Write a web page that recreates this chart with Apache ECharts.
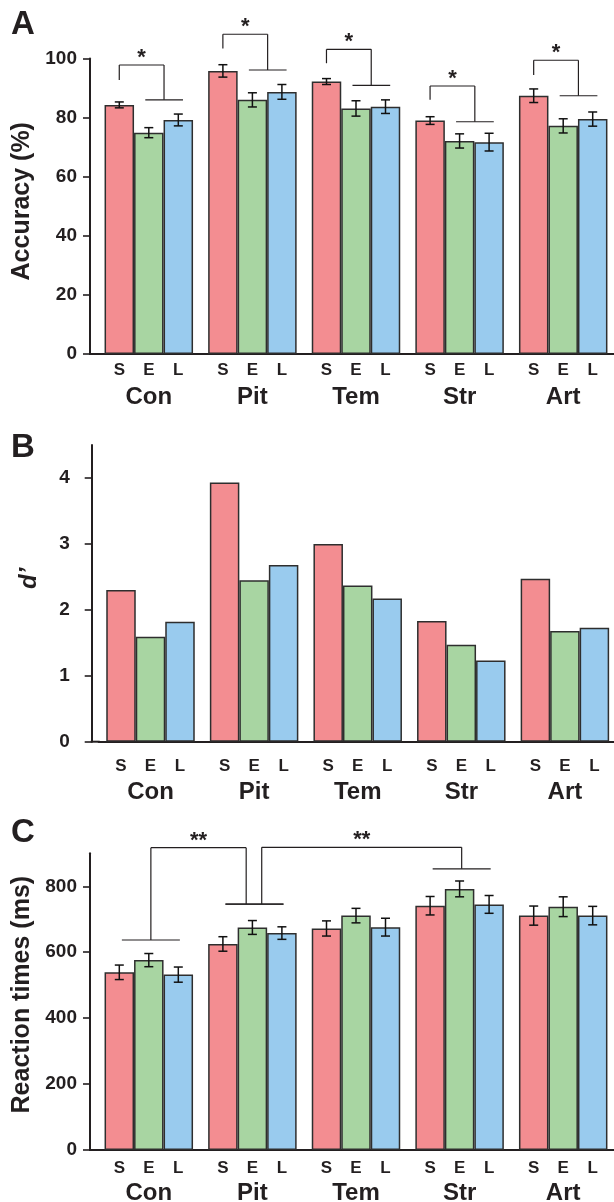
<!DOCTYPE html>
<html><head><meta charset="utf-8">
<script src="https://cdn.jsdelivr.net/npm/echarts@6/dist/echarts.min.js"></script>
<style>html,body{margin:0;padding:0;background:#fff}#c{width:614px;height:1202px}</style>
</head><body><div id="c"></div>
<script>
// ---------- data ----------
const categories = ['Con', 'Pit', 'Tem', 'Str', 'Art'];
const conditions = ['S', 'E', 'L'];

// Panel A: accuracy (%)
const accS = [84.3, 95.8, 92.2, 79.0, 87.4];
const accE = [74.9, 86.0, 83.1, 72.1, 77.2];
const accL = [79.2, 88.7, 83.7, 71.7, 79.5];
const accErrS = [1.0, 2.1, 1.0, 1.3, 2.3];
const accErrE = [1.7, 2.4, 2.6, 2.4, 2.4];
const accErrL = [2.0, 2.5, 2.3, 3.0, 2.4];
// significance brackets: [category, left leg start, top, right leg end]
const accBrackets = [
  [0, 92.7, 97.8, 86.0],
  [1, 103.4, 108.2, 96.1],
  [2, 98.4, 103.1, 90.9],
  [3, 86.0, 90.7, 78.6],
  [4, 94.4, 99.4, 87.4]
];

// Panel B: d'
const dS = [2.30, 3.93, 3.00, 1.83, 2.47];
const dE = [1.59, 2.45, 2.37, 1.47, 1.68];
const dL = [1.82, 2.68, 2.17, 1.23, 1.73];

// Panel C: reaction times (ms)
const rtS = [539, 625, 672, 741, 711];
const rtE = [576, 675, 711, 792, 738];
const rtL = [532, 658, 676, 745, 711];
const rtErrS = [22, 22, 23, 28, 29];
const rtErrE = [20, 21, 22, 24, 30];
const rtErrL = [23, 19, 27, 27, 28];
// brackets: [from category, from level, to category, to level, top level, from leg offset, to leg offset]
const rtBrackets = [
  [0, 637, 1, 746, 917, 0.02, -0.06],
  [1, 746, 3, 853, 918, 0.09, 0.02]
];

const accTicks = [0, 20, 40, 60, 80, 100];
const dTicks = [0, 1, 2, 3, 4];
const rtTicks = [0, 200, 400, 600, 800];

// ---------- style ----------
const FONT = "'Liberation Sans', Arial, Helvetica, sans-serif";
const INK = '#231f20';
const COLORS = ['#f38d91', '#a8d5a2', '#99cbee'];
const BAR_W = 29.5;
const grids = [
  { left: 97, width: 518, top: 58.5, height: 295.5 },
  { left: 98.7, width: 518, top: 445, height: 296.7 },
  { left: 97, width: 518, top: 853.3, height: 296.7 }
];
grids.forEach(g => { g.containLabel = false; g.outerBoundsMode = 'none'; });

const chart = echarts.init(document.getElementById('c'), null, { renderer: 'canvas' });

function xAxis(i, margin) {
  return {
    gridIndex: i, type: 'category', data: categories,
    axisTick: { show: false },
    axisLine: { show: true, onZero: false, lineStyle: { color: INK, width: 2 } },
    axisLabel: { fontSize: 24, fontWeight: 'bold', color: INK, fontFamily: FONT, margin: margin },
    splitLine: { show: false }
  };
}
function yAxis(i, min, max, ticks, name, nameOpts, labelMargin) {
  return {
    gridIndex: i, type: 'value', min: min, max: max, offset: 7,
    axisLine: { show: true, lineStyle: { color: INK, width: 2 } },
    axisTick: { show: true, length: 7, customValues: ticks, lineStyle: { color: INK, width: 1.6 } },
    axisLabel: { customValues: ticks, fontSize: 19, fontWeight: 'bold', color: INK, fontFamily: FONT, margin: labelMargin },
    splitLine: { show: false },
    name: name, nameLocation: 'middle', nameGap: nameOpts.gap,
    nameTextStyle: Object.assign({ fontSize: 25, fontWeight: 'bold', color: INK, fontFamily: FONT }, nameOpts.style)
  };
}

function barSeries(panel, arrs, labelDist) {
  return arrs.map((arr, s) => ({
    type: 'bar', name: conditions[s], xAxisIndex: panel, yAxisIndex: panel,
    data: arr, barWidth: BAR_W, barGap: '0%',
    itemStyle: { color: COLORS[s], borderColor: '#2e2e2e', borderWidth: 1.5 },
    label: {
      show: true, position: 'bottom', distance: labelDist, formatter: conditions[s],
      fontSize: 17, fontWeight: 'bold', color: INK, fontFamily: FONT
    },
    emphasis: { disabled: true }, z: 2
  }));
}

function errorSeries(panel, vals, errs) {
  const data = [];
  vals.forEach((arr, s) => arr.forEach((v, c) => data.push([c, v, errs[s][c], s])));
  return {
    type: 'custom', xAxisIndex: panel, yAxisIndex: panel, data: data, z: 5,
    encode: { x: 0, y: 1 }, clip: false,
    renderItem: function (params, api) {
      const c = api.value(0), v = api.value(1), e = api.value(2), s = api.value(3);
      const x = api.coord([c, v])[0] + (s - 1) * BAR_W;
      const yT = api.coord([c, v + e])[1], yB = api.coord([c, v - e])[1];
      const h = 4.5, st = { stroke: '#111', lineWidth: 1.5 };
      return { type: 'group', children: [
        { type: 'line', shape: { x1: x, y1: yT, x2: x, y2: yB }, style: st },
        { type: 'line', shape: { x1: x - h, y1: yT, x2: x + h, y2: yT }, style: st },
        { type: 'line', shape: { x1: x - h, y1: yB, x2: x + h, y2: yB }, style: st }
      ] };
    }
  };
}

const BST = { stroke: INK, lineWidth: 1.2 };
function starText(x, y, txt) {
  return { type: 'text', style: { text: txt, x: x, y: y, font: 'bold 22px ' + FONT, fill: INK, align: 'center', verticalAlign: 'middle' } };
}

const accBracketSeries = {
  type: 'custom', xAxisIndex: 0, yAxisIndex: 0, data: accBrackets, z: 6, clip: false,
  encode: { x: 0, y: 2 },
  renderItem: function (params, api) {
    const c = api.value(0);
    const band = api.size([1, 0])[0];
    const cx = api.coord([c, 0])[0];
    const X = f => cx + f * band;
    const yL = api.coord([c, api.value(1)])[1];
    const yT = api.coord([c, api.value(2)])[1];
    const yR = api.coord([c, api.value(3)])[1];
    const xl = X(-0.285), xr = X(0.147);
    return { type: 'group', children: [
      { type: 'line', shape: { x1: xl, y1: yL, x2: xl, y2: yT }, style: BST },
      { type: 'line', shape: { x1: xl, y1: yT, x2: xr, y2: yT }, style: BST },
      { type: 'line', shape: { x1: xr, y1: yT, x2: xr, y2: yR }, style: BST },
      { type: 'line', shape: { x1: X(-0.034), y1: yR, x2: X(0.33), y2: yR }, style: BST },
      starText((xl + xr) / 2, yT - 7, '*')
    ] };
  }
};

const rtBracketSeries = {
  type: 'custom', xAxisIndex: 2, yAxisIndex: 2, data: rtBrackets, z: 6, clip: false,
  encode: { x: 0, y: 4 },
  renderItem: function (params, api) {
    const c1 = api.value(0), c2 = api.value(2);
    const band = api.size([1, 0])[0];
    const cx1 = api.coord([c1, 0])[0], cx2 = api.coord([c2, 0])[0];
    const y1 = api.coord([c1, api.value(1)])[1];
    const y2 = api.coord([c2, api.value(3)])[1];
    const yT = api.coord([c1, api.value(4)])[1];
    const xa = cx1 + api.value(5) * band, xb = cx2 + api.value(6) * band;
    return { type: 'group', children: [
      { type: 'line', shape: { x1: cx1 - 0.26 * band, y1: y1, x2: cx1 + 0.30 * band, y2: y1 }, style: BST },
      { type: 'line', shape: { x1: cx2 - 0.26 * band, y1: y2, x2: cx2 + 0.30 * band, y2: y2 }, style: BST },
      { type: 'line', shape: { x1: xa, y1: y1, x2: xa, y2: yT }, style: BST },
      { type: 'line', shape: { x1: xa, y1: yT, x2: xb, y2: yT }, style: BST },
      { type: 'line', shape: { x1: xb, y1: yT, x2: xb, y2: y2 }, style: BST },
      starText((xa + xb) / 2, yT - 7, '**')
    ] };
  }
};

const graphics = [];
['A', 'B', 'C'].forEach((t, i) => {
  const ys = [25, 448, 832.5];
  graphics.push({ type: 'text', x: 11, y: ys[i], style: { text: t, font: 'bold 33px ' + FONT, fill: INK, verticalAlign: 'middle' } });
});
grids.forEach(g => {
  const yb = g.top + g.height;
  graphics.push({ type: 'line', shape: { x1: g.left - 8, y1: yb, x2: g.left + 1, y2: yb }, style: { stroke: INK, lineWidth: 2 } });
});

chart.setOption({
  animation: false,
  backgroundColor: '#fff',
  textStyle: { fontFamily: FONT },
  grid: grids,
  xAxis: [xAxis(0, 31), xAxis(1, 39), xAxis(2, 31)],
  yAxis: [
    yAxis(0, 0, 100, accTicks, 'Accuracy (%)', { gap: 51, style: { padding: [0, 0, 0, 10] } }, 13),
    yAxis(1, 0, 4.5, dTicks, 'd\u2019', { gap: 50, style: { fontStyle: 'italic', fontSize: 24, padding: [0, 0, 0, 30] } }, 22),
    yAxis(2, 0, 900, rtTicks, 'Reaction times (ms)', { gap: 51, style: { padding: [0, 0, 0, 14] } }, 13)
  ],
  series: [].concat(
    barSeries(0, [accS, accE, accL], 8),
    [errorSeries(0, [accS, accE, accL], [accErrS, accErrE, accErrL]), accBracketSeries],
    barSeries(1, [dS, dE, dL], 16),
    barSeries(2, [rtS, rtE, rtL], 10),
    [errorSeries(2, [rtS, rtE, rtL], [rtErrS, rtErrE, rtErrL]), rtBracketSeries]
  ),
  graphic: graphics
});
</script></body></html>
